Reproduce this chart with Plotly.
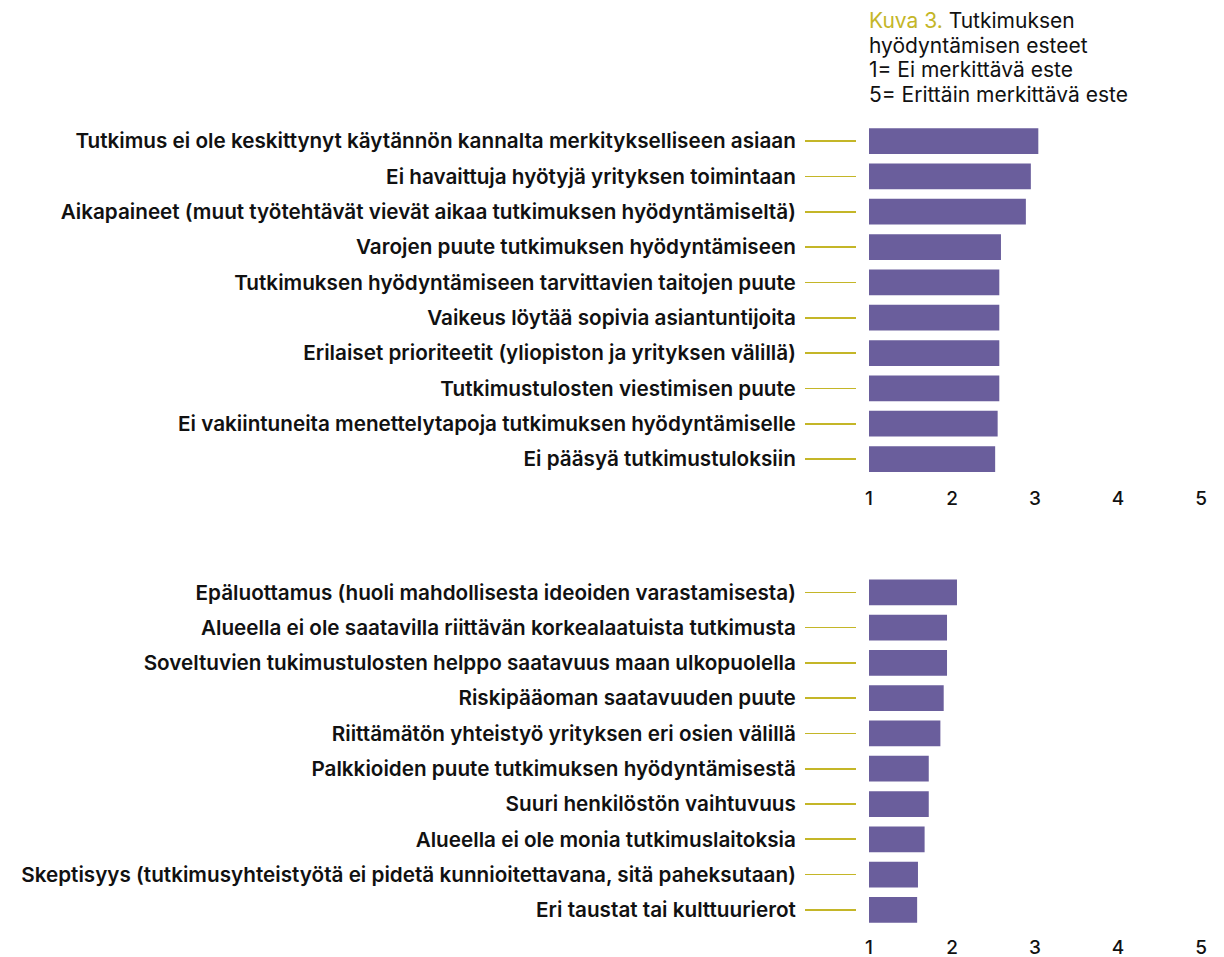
import plotly.graph_objects as go

# ---------- data ----------
top_labels = [
    "Tutkimus ei ole keskittynyt käytännön kannalta merkitykselliseen asiaan",
    "Ei havaittuja hyötyjä yrityksen toimintaan",
    "Aikapaineet (muut työtehtävät vievät aikaa tutkimuksen hyödyntämiseltä)",
    "Varojen puute tutkimuksen hyödyntämiseen",
    "Tutkimuksen hyödyntämiseen tarvittavien taitojen puute",
    "Vaikeus löytää sopivia asiantuntijoita",
    "Erilaiset prioriteetit (yliopiston ja yrityksen välillä)",
    "Tutkimustulosten viestimisen puute",
    "Ei vakiintuneita menettelytapoja tutkimuksen hyödyntämiselle",
    "Ei pääsyä tutkimustuloksiin",
]
top_values = [3.04, 2.95, 2.89, 2.59, 2.57, 2.57, 2.57, 2.57, 2.55, 2.52]

bottom_labels = [
    "Epäluottamus (huoli mahdollisesta ideoiden varastamisesta)",
    "Alueella ei ole saatavilla riittävän korkealaatuista tutkimusta",
    "Soveltuvien tukimustulosten helppo saatavuus maan ulkopuolella",
    "Riskipääoman saatavuuden puute",
    "Riittämätön yhteistyö yrityksen eri osien välillä",
    "Palkkioiden puute tutkimuksen hyödyntämisestä",
    "Suuri henkilöstön vaihtuvuus",
    "Alueella ei ole monia tutkimuslaitoksia",
    "Skeptisyys (tutkimusyhteistyötä ei pidetä kunnioitettavana, sitä paheksutaan)",
    "Eri taustat tai kulttuurierot",
]
bottom_values = [2.06, 1.94, 1.94, 1.90, 1.86, 1.72, 1.72, 1.67, 1.59, 1.58]

x_ticks = [1, 2, 3, 4, 5]
base_value = 1

title_lines = [
    "<span style='color:#c4b628'>Kuva 3.</span> Tutkimuksen",
    "hyödyntämisen esteet",
    "1= Ei merkittävä este",
    "5= Erittäin merkittävä este",
]

# ---------- style ----------
BAR = "#6a5e9c"
GOLD = "#c4b628"
FONT = "Inter"
W, H = 1224, 957

def px_x(p):
    return p / W

def px_y(p):
    return 1 - p / H

fig = go.Figure()
fig.add_trace(go.Bar(
    y=top_labels, x=[v - base_value for v in top_values], base=base_value,
    orientation="h", marker=dict(color=BAR, line=dict(width=0)),
    width=0.73, xaxis="x", yaxis="y", showlegend=False, hoverinfo="skip",
))
fig.add_trace(go.Bar(
    y=bottom_labels, x=[v - base_value for v in bottom_values], base=base_value,
    orientation="h", marker=dict(color=BAR, line=dict(width=0)),
    width=0.73, xaxis="x2", yaxis="y2", showlegend=False, hoverinfo="skip",
))

xdom = [px_x(869), px_x(1201)]

def xax(anchor, standoff):
    return dict(
        domain=xdom, range=[1, 5], tickvals=x_ticks, showgrid=False,
        zeroline=False, showline=False, ticks="", anchor=anchor,
        tickfont=dict(family=FONT, size=19, color="#111111", weight=500),
        ticklabelstandoff=standoff, fixedrange=True,
    )

def yax(dom):
    return dict(
        domain=dom, autorange="reversed", anchor="free", position=px_x(856),
        showgrid=False, zeroline=False, showline=False,
        ticks="outside", ticklen=51, tickwidth=1.6, tickcolor=GOLD,
        ticklabelstandoff=5,
        tickfont=dict(family=FONT, size=20.7, color="#111111", weight=600),
        fixedrange=True,
    )

title_y = [20, 45, 69, 94]
annotations = [
    dict(xref="paper", yref="paper", x=px_x(867), y=px_y(yy),
         xanchor="left", yanchor="middle", align="left", showarrow=False,
         text=t, font=dict(family=FONT, size=21, color="#111111"))
    for t, yy in zip(title_lines, title_y)
]

fig.update_layout(
    width=W, height=H,
    margin=dict(l=0, r=0, t=0, b=0, autoexpand=False),
    paper_bgcolor="white", plot_bgcolor="white",
    xaxis=xax("y", 8), xaxis2=xax("y2", 6),
    yaxis=yax([px_y(476.7), px_y(123.4)]),
    yaxis2=yax([px_y(927.5), px_y(574.7)]),
    annotations=annotations,
)

fig.write_html(
    "out.html",
    config={"displayModeBar": False, "staticPlot": True},
    post_script="document.body.style.margin='0';document.body.style.overflow='hidden';",
)
